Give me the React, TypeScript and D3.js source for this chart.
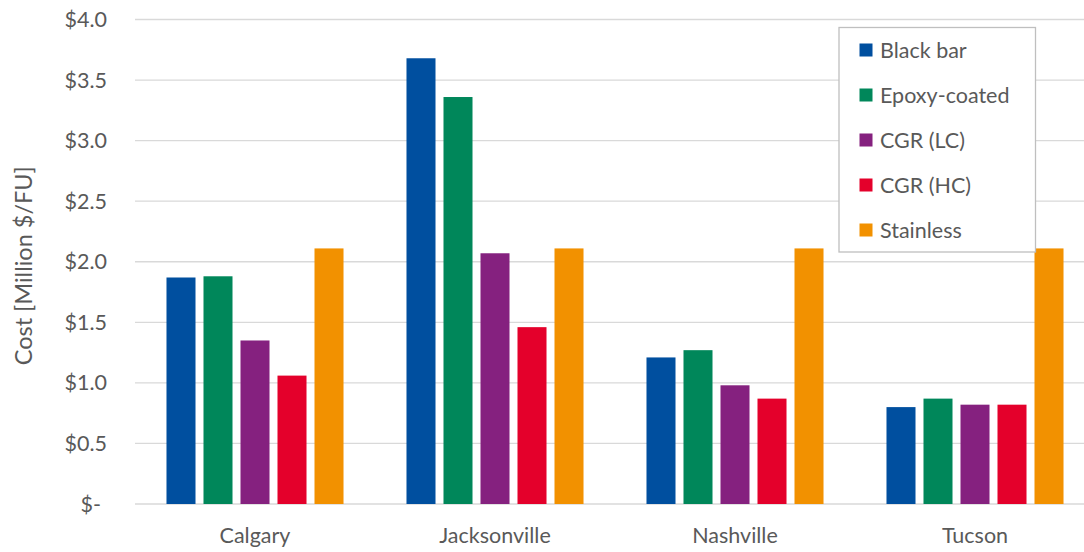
import React from "react";
import * as d3 from "d3";

const categories = ["Calgary", "Jacksonville", "Nashville", "Tucson"];
const seriesNames = ["Black bar", "Epoxy-coated", "CGR (LC)", "CGR (HC)", "Stainless"];
const blackBar = [1.87, 3.68, 1.21, 0.80];
const epoxyCoated = [1.88, 3.36, 1.27, 0.87];
const cgrLC = [1.35, 2.07, 0.98, 0.82];
const cgrHC = [1.06, 1.46, 0.87, 0.82];
const stainless = [2.11, 2.11, 2.11, 2.11];
const colors = ["#004F9F", "#00875A", "#85217F", "#E4002B", "#F29100"];
const yTicks = [0, 0.5, 1, 1.5, 2, 2.5, 3, 3.5, 4];
const yTickLabels = ["$-", "$0.5", "$1.0", "$1.5", "$2.0", "$2.5", "$3.0", "$3.5", "$4.0"];
const yTitle = "Cost [Million $/FU]";

const W = 1084;
const H = 552;
const FONT = "Lato, 'Open Sans', sans-serif";
const TEXT = "#595959";

export default function App() {
  const series = [blackBar, epoxyCoated, cgrLC, cgrHC, stainless];
  const x0 = d3.scaleBand<string>().domain(categories).range([135, 1095]).padding(0);
  const x1 = d3
    .scaleBand<string>()
    .domain(seriesNames)
    .range([0, x0.bandwidth()])
    .paddingInner(0.216)
    .paddingOuter(0.851);
  const y = d3.scaleLinear().domain([0, 4]).range([504, 19.5]);

  return (
    <svg
      width={W}
      height={H}
      style={{ position: "absolute", left: 0, top: 0, background: "#fff" }}
      fontFamily={FONT}
    >
      <rect x={0} y={0} width={W} height={H} fill="#fff" />
      {yTicks.map((t, i) => (
        <g key={t}>
          <line x1={135} x2={1095} y1={y(t)} y2={y(t)} stroke="#D9D9D9" strokeWidth={1.3} />
          <text
            x={t === 0 ? 101 : 107}
            y={y(t)}
            dy="0.35em"
            textAnchor="end"
            fontSize={21.5}
            fill={TEXT}
          >
            {yTickLabels[i]}
          </text>
        </g>
      ))}
      {categories.map((c, ci) => (
        <g key={c}>
          {seriesNames.map((s, si) => (
            <rect
              key={s}
              x={(x0(c) as number) + (x1(s) as number)}
              y={y(series[si][ci])}
              width={x1.bandwidth()}
              height={y(0) - y(series[si][ci])}
              fill={colors[si]}
            />
          ))}
          <text
            x={(x0(c) as number) + x0.bandwidth() / 2}
            y={543}
            textAnchor="middle"
            fontSize={21.5}
            fill={TEXT}
          >
            {c}
          </text>
        </g>
      ))}
      <text
        transform={`translate(32, ${(y(0) + y(4)) / 2 + 4}) rotate(-90)`}
        textAnchor="middle"
        fontSize={23.5}
        fill={TEXT}
      >
        {yTitle}
      </text>
      <g>
        <rect x={839} y={27.5} width={196.5} height={224.5} fill="#fff" stroke="#BFBFBF" strokeWidth={1.3} />
        {seriesNames.map((s, si) => (
          <g key={s} transform={`translate(0, ${50 + si * 45})`}>
            <rect x={859.5} y={-6.5} width={13} height={13} fill={colors[si]} />
            <text x={880} y={0} dy="0.35em" fontSize={21.5} fill={TEXT}>
              {s}
            </text>
          </g>
        ))}
      </g>
    </svg>
  );
}
